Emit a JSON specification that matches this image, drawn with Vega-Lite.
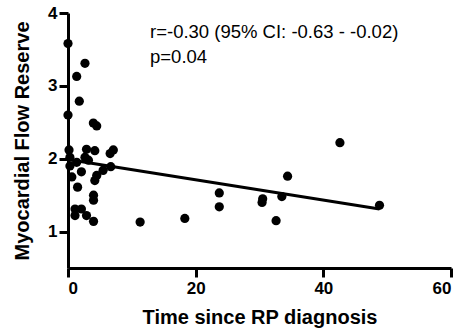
{
  "$schema": "https://vega.github.io/schema/vega-lite/v6.json",
  "autosize": "none",
  "width": 383,
  "height": 255,
  "padding": {"left": 68, "top": 13, "right": 13, "bottom": 64},
  "background": "white",
  "datasets": {
    "pts": [
      {"t": 0, "mfr": 3.58}, {"t": 2.66, "mfr": 3.31}, {"t": 1.36, "mfr": 3.13}, {"t": 1.77, "mfr": 2.79},
      {"t": 0, "mfr": 2.6}, {"t": 3.97, "mfr": 2.49}, {"t": 4.5, "mfr": 2.45}, {"t": 0.16, "mfr": 2.12},
      {"t": 2.9, "mfr": 2.13}, {"t": 4.2, "mfr": 2.11}, {"t": 7.1, "mfr": 2.12}, {"t": 6.6, "mfr": 2.07},
      {"t": 0.3, "mfr": 2.02}, {"t": 2.66, "mfr": 2.02}, {"t": 1.36, "mfr": 1.95}, {"t": 3.2, "mfr": 1.98},
      {"t": 0.6, "mfr": 1.75}, {"t": 2.1, "mfr": 1.82}, {"t": 4.5, "mfr": 1.77}, {"t": 5.5, "mfr": 1.84},
      {"t": 6.7, "mfr": 1.89}, {"t": 4.2, "mfr": 1.7}, {"t": 1.5, "mfr": 1.61}, {"t": 4.0, "mfr": 1.5},
      {"t": 4.0, "mfr": 1.43}, {"t": 1.1, "mfr": 1.31}, {"t": 2.1, "mfr": 1.31}, {"t": 1.1, "mfr": 1.22},
      {"t": 2.9, "mfr": 1.22}, {"t": 4.0, "mfr": 1.14}, {"t": 11.3, "mfr": 1.13}, {"t": 18.3, "mfr": 1.18},
      {"t": 23.7, "mfr": 1.53}, {"t": 23.7, "mfr": 1.34}, {"t": 30.5, "mfr": 1.45}, {"t": 30.4, "mfr": 1.4},
      {"t": 32.6, "mfr": 1.15}, {"t": 33.5, "mfr": 1.48}, {"t": 34.4, "mfr": 1.76}, {"t": 42.6, "mfr": 2.22},
      {"t": 48.8, "mfr": 1.36}, {"t": 0.3, "mfr": 1.9}
    ],
    "fit": [{"t": 0, "mfr": 1.99}, {"t": 48.8, "mfr": 1.31}],
    "note": [
      {"label": "r=-0.30 (95% CI: -0.63 - -0.02)", "t": 12.85, "mfr": 3.656},
      {"label": "p=0.04", "t": 12.85, "mfr": 3.31}
    ]
  },
  "layer": [
    {
      "data": {"name": "fit"},
      "mark": {"type": "line", "color": "black", "strokeWidth": 3},
      "encoding": {
        "x": {"field": "t", "type": "quantitative", "scale": {"domain": [0, 60]},
              "axis": {"title": "Time since RP diagnosis", "values": [0, 20, 40, 60], "format": "d", "labelPadding": 3, "titlePadding": 11}},
        "y": {"field": "mfr", "type": "quantitative", "scale": {"domain": [0.5, 4]},
              "axis": {"title": "Myocardial Flow Reserve", "values": [1, 2, 3, 4], "format": "d", "labelPadding": 2, "titlePadding": 15}}
      }
    },
    {
      "data": {"name": "pts"},
      "mark": {"type": "circle", "color": "black", "opacity": 1, "size": 85},
      "encoding": {
        "x": {"field": "t", "type": "quantitative"},
        "y": {"field": "mfr", "type": "quantitative"}
      }
    },
    {
      "data": {"name": "note"},
      "mark": {"type": "text", "align": "left", "baseline": "alphabetic", "font": "Liberation Sans", "fontSize": 18.5, "color": "black"},
      "encoding": {
        "x": {"field": "t", "type": "quantitative"},
        "y": {"field": "mfr", "type": "quantitative"},
        "text": {"field": "label"}
      }
    }
  ],
  "config": {
    "view": {"stroke": null},
    "axis": {
      "grid": false,
      "domainColor": "black",
      "domainWidth": 3,
      "tickColor": "black",
      "tickWidth": 3,
      "tickSize": 9,
      "labelFont": "Liberation Sans",
      "labelFontWeight": "bold",
      "labelFontSize": 17,
      "labelColor": "black",
      "titleFont": "Liberation Sans",
      "titleFontWeight": "bold",
      "titleFontSize": 20,
      "titleColor": "black"
    }
  }
}
